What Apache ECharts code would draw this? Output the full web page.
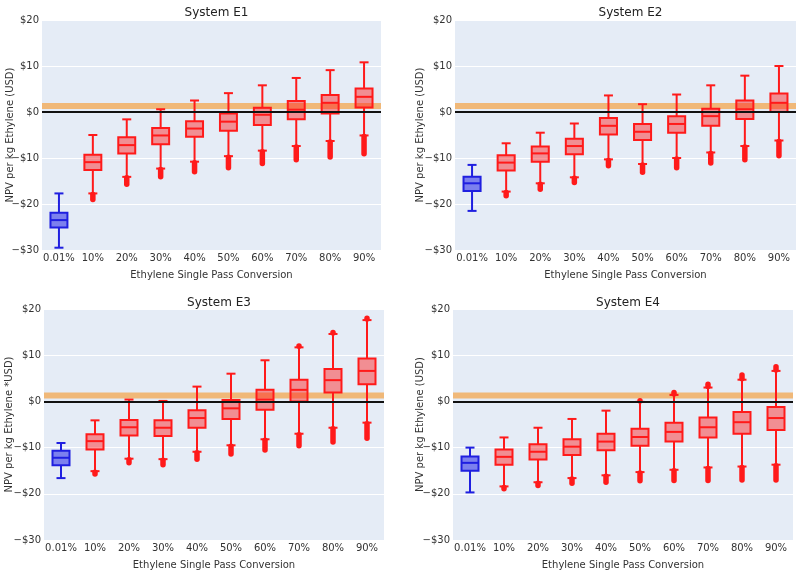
<!DOCTYPE html>
<html>
<head>
<meta charset="utf-8">
<script src="https://cdn.jsdelivr.net/npm/echarts@6/dist/echarts.min.js"></script>
<style>
html,body{margin:0;padding:0;background:#fff;}
#chart{width:803px;height:575px;}
</style>
</head>
<body>
<div id="chart"></div>
<script>
const categories = ['0.01%','10%','20%','30%','40%','50%','60%','70%','80%','90%'];
const titles = ['System E1','System E2','System E3','System E4'];
const yNames = ['NPV per kg Ethylene (USD)','NPV per kg Ethylene (USD)','NPV per kg Ethylene *USD)','NPV per kg Ethylene (USD)'];
const band = [0.65, 1.95];

// System E1
const e1Low  = [-29.5,-17.7,-14.1,-12.3,-10.8,-9.6,-8.4,-7.4,-6.3,-5.1];
const e1Q1   = [-25.1,-12.6,-9.0,-7.0,-5.4,-4.1,-2.8,-1.6,-0.3,1.0];
const e1Med  = [-23.5,-10.9,-7.2,-5.1,-3.6,-2.1,-0.6,0.5,2.0,3.3];
const e1Q3   = [-21.9,-9.3,-5.5,-3.5,-2.0,-0.3,0.9,2.4,3.7,5.1];
const e1High = [-17.7,-5.0,-1.6,0.6,2.5,4.1,5.8,7.4,9.1,10.8];
const e1OutLow  = [null,-19.0,-15.7,-14.1,-13.0,-12.1,-11.2,-10.4,-9.8,-9.1];
const e1OutHigh = [null,null,null,null,null,null,null,null,null,null];

// System E2
const e2Low  = [-21.5,-17.3,-15.5,-14.2,-10.3,-11.3,-10.0,-8.8,-7.4,-6.2];
const e2Q1   = [-17.2,-12.7,-10.8,-9.2,-4.9,-6.1,-4.5,-3.0,-1.5,0.0];
const e2Med  = [-15.5,-11.0,-9.0,-7.4,-3.0,-4.3,-2.6,-0.9,0.6,2.0];
const e2Q3   = [-14.1,-9.4,-7.5,-5.8,-1.3,-2.6,-0.9,0.7,2.5,4.0];
const e2High = [-11.5,-6.8,-4.5,-2.5,3.6,1.7,3.8,5.8,7.9,10.0];
const e2OutLow  = [null,-18.2,-16.8,-15.3,-11.7,-13.1,-12.1,-11.1,-10.4,-9.5];
const e2OutHigh = [null,null,null,null,null,null,null,null,null,null];

// System E3
const e3Low  = [-16.6,-15.1,-12.4,-12.5,-10.9,-9.5,-8.2,-7.0,-5.7,-4.6];
const e3Q1   = [-13.8,-10.4,-7.4,-7.5,-5.7,-3.8,-1.8,0.0,1.9,3.7];
const e3Med  = [-12.2,-8.6,-5.6,-5.7,-3.6,-1.5,0.4,2.5,4.6,6.6];
const e3Q3   = [-10.7,-7.1,-4.0,-4.1,-1.9,0.3,2.5,4.7,7.0,9.3];
const e3High = [-9.0,-4.1,0.4,0.1,3.2,6.0,8.9,11.7,14.6,17.6];
const e3OutLow  = [null,-15.7,-13.3,-13.7,-12.5,-11.4,-10.5,-9.6,-8.8,-8.0];
const e3OutHigh = [null,null,null,null,null,null,null,12.0,14.9,18.0];

// System E4
const e4Low  = [-19.7,-18.4,-17.5,-16.6,-16.0,-15.3,-14.8,-14.3,-14.1,-13.7];
const e4Q1   = [-15.0,-13.7,-12.6,-11.6,-10.6,-9.6,-8.7,-7.8,-7.0,-6.2];
const e4Med  = [-13.3,-12.0,-10.9,-9.8,-8.7,-7.7,-6.6,-5.6,-4.5,-3.6];
const e4Q3   = [-11.9,-10.4,-9.3,-8.2,-7.0,-5.9,-4.6,-3.5,-2.3,-1.2];
const e4High = [-10.0,-7.8,-5.7,-3.8,-2.0,-0.1,1.4,3.0,4.7,6.6];
const e4OutLow  = [null,-18.9,-18.2,-17.7,-17.5,-17.2,-17.1,-17.1,-17.0,-17.0];
const e4OutHigh = [null,null,null,null,null,0.1,1.9,3.7,5.7,7.5];

const systems = [
  [e1Low,e1Q1,e1Med,e1Q3,e1High,e1OutLow,e1OutHigh],
  [e2Low,e2Q1,e2Med,e2Q3,e2High,e2OutLow,e2OutHigh],
  [e3Low,e3Q1,e3Med,e3Q3,e3High,e3OutLow,e3OutHigh],
  [e4Low,e4Q1,e4Med,e4Q3,e4High,e4OutLow,e4OutHigh]
];

const FONT = 'DejaVu Sans';
const grids = [
  {left:42, top:20, width:339, height:230},
  {left:455, top:20, width:341, height:230},
  {left:44, top:309, width:340, height:231},
  {left:453, top:309, width:340, height:231}
];
const titleTops = [2, 2, 292, 292];
const nameGaps = [27, 30, 30, 28];

function fmtY(v){ return v < 0 ? '\u2212$' + (-v) : '$' + v; }

function renderBox(params, api){
  const i = api.value(0);
  const [lw,q1,md,q3,uw,ol,oh] = [1,2,3,4,5,6,7].map(k => api.value(k));
  const blue = i === 0;
  const stroke = blue ? '#1f1fe0' : '#ff1a1a';
  const fill = blue ? 'rgba(20,20,230,0.5)' : 'rgba(255,30,30,0.46)';
  const bw = api.size([1,0])[0] * 0.5;
  const cap = 4.5;
  const pLw = api.coord([i, lw]), pQ1 = api.coord([i, q1]), pMd = api.coord([i, md]);
  const pQ3 = api.coord([i, q3]), pUw = api.coord([i, uw]);
  const x = pMd[0];
  const children = [];
  const ls = {stroke: stroke, lineWidth: 2, fill: null};
  if (ol !== null && !isNaN(ol)) {
    const pOl = api.coord([i, ol]);
    children.push({type:'line', shape:{x1:x, y1:pLw[1]+1, x2:x, y2:pOl[1]}, style:{stroke:stroke, lineWidth:5.5, lineCap:'round'}});
  }
  if (oh !== null && !isNaN(oh)) {
    const pOh = api.coord([i, oh]);
    children.push({type:'line', shape:{x1:x, y1:pUw[1]-1, x2:x, y2:pOh[1]}, style:{stroke:stroke, lineWidth:5.5, lineCap:'round'}});
  }
  children.push({type:'line', shape:{x1:x, y1:pLw[1], x2:x, y2:pQ1[1]}, style:ls});
  children.push({type:'line', shape:{x1:x, y1:pQ3[1], x2:x, y2:pUw[1]}, style:ls});
  children.push({type:'line', shape:{x1:x-cap, y1:pLw[1], x2:x+cap, y2:pLw[1]}, style:ls});
  children.push({type:'line', shape:{x1:x-cap, y1:pUw[1], x2:x+cap, y2:pUw[1]}, style:ls});
  children.push({type:'rect', shape:{x:x-bw/2, y:pQ3[1], width:bw, height:pQ1[1]-pQ3[1]}, style:{fill:fill, stroke:stroke, lineWidth:2}});
  children.push({type:'line', shape:{x1:x-bw/2, y1:pMd[1], x2:x+bw/2, y2:pMd[1]}, style:ls});
  return {type:'group', children: children};
}

const option = {
  backgroundColor: '#ffffff',
  animation: false,
  title: titles.map((t, k) => ({
    text: t,
    left: grids[k].left + grids[k].width/2,
    top: titleTops[k],
    textAlign: 'center',
    textStyle: {fontFamily: FONT, fontSize: 12, fontWeight: 'normal', color: '#222'}
  })),
  grid: grids.map(g => Object.assign({}, g, {show:true, backgroundColor:'#e5ecf6', borderWidth:0, containLabel:false, outerBoundsMode:'none'})),
  xAxis: grids.map((g, k) => ({
    type: 'category',
    gridIndex: k,
    data: categories,
    boundaryGap: true,
    axisLine: {show:false},
    axisTick: {show:false},
    splitLine: {show:false},
    axisLabel: {fontFamily: FONT, fontSize: 10, color:'#333', margin: 3, interval: 0},
    name: 'Ethylene Single Pass Conversion',
    nameLocation: 'middle',
    nameGap: 20,
    nameMoveOverlap: false,
    nameTextStyle: {fontFamily: FONT, fontSize: 10, color:'#333'}
  })),
  yAxis: grids.map((g, k) => ({
    type: 'value',
    gridIndex: k,
    min: -30, max: 20, interval: 10,
    axisLine: {show:false},
    axisTick: {show:false},
    splitLine: {show:true, lineStyle:{color:'#ffffff', width:1}},
    axisLabel: {fontFamily: FONT, fontSize: 10, color:'#333', margin: 3, formatter: fmtY},
    name: yNames[k],
    nameLocation: 'middle',
    nameGap: nameGaps[k],
    nameMoveOverlap: false,
    nameTextStyle: {fontFamily: FONT, fontSize: 10, color:'#333'}
  })),
  series: []
};

systems.forEach((s, k) => {
  option.series.push({
    type: 'line',
    xAxisIndex: k, yAxisIndex: k,
    data: [],
    silent: true,
    z: 1,
    markArea: {silent:true, itemStyle:{color:'#f0b878', opacity:1}, data:[[{yAxis: band[0]}, {yAxis: band[1]}]]},
    markLine: {silent:true, symbol:'none', label:{show:false}, lineStyle:{color:'#111', width:2, type:'solid'}, data:[{yAxis: 0}]}
  });
  const data = categories.map((c, i) => [i, s[0][i], s[1][i], s[2][i], s[3][i], s[4][i],
    s[5][i] === null ? NaN : s[5][i], s[6][i] === null ? NaN : s[6][i]]);
  option.series.push({
    type: 'custom',
    xAxisIndex: k, yAxisIndex: k,
    z: 3,
    renderItem: renderBox,
    encode: {x: 0, y: [1,2,3,4,5]},
    data: data
  });
});

const chart = echarts.init(document.getElementById('chart'), null, {renderer:'canvas'});
chart.setOption(option);
</script>
</body>
</html>
